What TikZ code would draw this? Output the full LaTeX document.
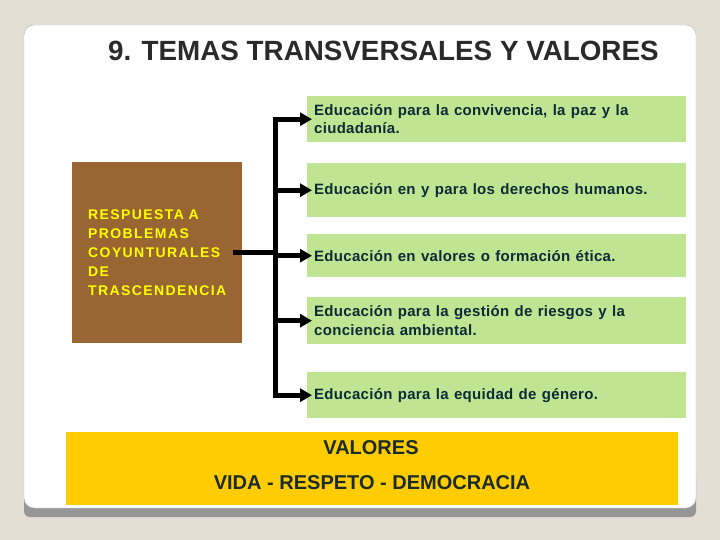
\documentclass[tikz,border=0pt]{standalone}
\usepackage{fontspec}
\setmainfont{Liberation Sans}
\newfontfamily\greenfont[LetterSpace=2]{Liberation Sans Bold}
\newfontfamily\brownfont[LetterSpace=10]{Liberation Sans Bold}
\newcommand\widewordgap{\setlength{\spaceskip}{5.4pt plus 1pt minus 0.5pt}}
\usetikzlibrary{arrows.meta}
\definecolor{bgc}{HTML}{E4DFD5}
\definecolor{shadowc}{HTML}{969696}
\definecolor{framec}{HTML}{B4B4B4}
\definecolor{titlec}{HTML}{2A2A2A}
\definecolor{brownc}{HTML}{996633}
\definecolor{greenc}{HTML}{BFE592}
\definecolor{textc}{HTML}{0D2B36}
\definecolor{yellowc}{HTML}{FFCC00}
\definecolor{ytext}{HTML}{1B2B28}
\definecolor{btext}{HTML}{FFFF00}
\tikzset{
  gbox/.style={fill=greenc, anchor=north west, minimum width=379pt, text width=365pt,
    inner xsep=7pt, inner ysep=0pt, align=left, text=textc,
    font=\greenfont\fontsize{15}{18.5}\selectfont,
    execute at begin node=\widewordgap},
  bus/.style={line width=5pt, black},
  ylabel/.style={text=ytext, font=\bfseries\fontsize{20}{24}\selectfont, inner sep=0pt}
}
\begin{document}
\begin{tikzpicture}[x=1pt,y=-1pt]
\useasboundingbox (0,0) rectangle (720,540);
\fill[bgc] (0,0) rectangle (720,540);
\fill[shadowc, rounded corners=6pt] (24,470) rectangle (696,517);
\filldraw[fill=white, draw=framec, rounded corners=10pt] (24,25) rectangle (696,508);

\node[anchor=west, font=\bfseries\fontsize{27.8}{32}\selectfont, text=titlec, inner sep=0pt] (title) at (108,51) {9. TEMAS TRANSVERSALES Y VALORES};

\node[gbox, minimum height=46pt] (g1) at (307,96) {Educación para la convivencia, la paz y la\\ciudadanía.};
\node[gbox, minimum height=54pt] (g2) at (307,163) {Educación en y para los derechos humanos.};
\node[gbox, minimum height=43pt] (g3) at (307,234) {Educación en valores o formación ética.};
\node[gbox, minimum height=47pt] (g4) at (307,297) {Educación para la gestión de riesgos y la\\conciencia ambiental.};
\node[gbox, minimum height=46pt] (g5) at (307,372) {Educación para la equidad de género.};

\node[fill=brownc, anchor=north west, minimum width=170pt, minimum height=181pt,
  text width=138pt, inner xsep=16pt, align=left, text=btext,
  font=\brownfont\fontsize{14}{19}\selectfont] (b) at (72,162)
  {RESPUESTA A\\PROBLEMAS\\COYUNTURALES\\DE\\TRASCENDENCIA};

\coordinate (j) at ([xshift=33pt]b.east);
\draw[bus] ([xshift=-9pt]b.east) -- (j);
\draw[bus, line cap=rect] (j |- g1.west) -- (j |- g5.west);
\foreach \g in {g1,g2,g3,g4,g5}
  \draw[bus, -{Triangle[length=12pt,width=13pt]}, shorten >=-5pt] (j |- \g.west) -- (\g.west);

\node[fill=yellowc, anchor=north west, minimum width=612pt, minimum height=73pt, inner sep=0pt] (ybox) at (66,432) {};
\node[ylabel] (v1) at (371,448) {VALORES};
\node[ylabel] (v2) at (372,483) {VIDA - RESPETO - DEMOCRACIA};
\end{tikzpicture}
\end{document}
